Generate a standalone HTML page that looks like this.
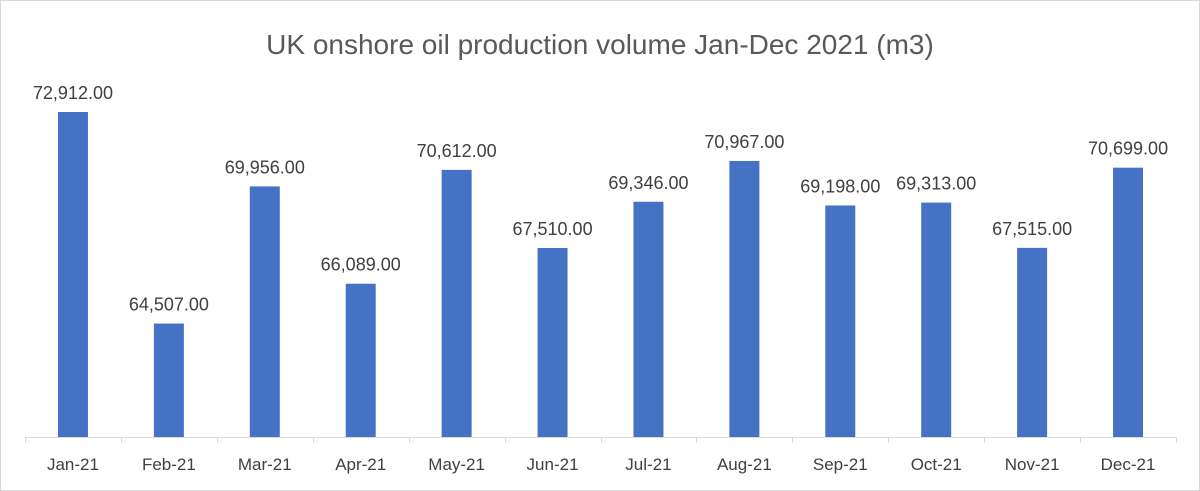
<!DOCTYPE html>
<html><head><style>
body{margin:0;background:#fff;}
svg{display:block;font-family:"Liberation Sans",sans-serif;}
</style></head><body>
<svg width="1200" height="491" viewBox="0 0 1200 491">
<rect x="0.5" y="0.5" width="1199" height="490" fill="#fff" stroke="#d9d9d9"/>
<text x="600" y="54" text-anchor="middle" font-size="28" fill="#595959">UK onshore oil production volume Jan-Dec 2021 (m3)</text>
<g id="bars"></g>
<line x1="25" y1="437.5" x2="1176" y2="437.5" stroke="#d9d9d9"/>
<g id="ticks" stroke="#d9d9d9"></g>
<g id="lbl" font-size="18" fill="#404040" text-anchor="middle"></g>
</svg>
<script>
const d=[["Jan-21",72912],["Feb-21",64507],["Mar-21",69956],["Apr-21",66089],["May-21",70612],["Jun-21",67510],["Jul-21",69346],["Aug-21",70967],["Sep-21",69198],["Oct-21",69313],["Nov-21",67515],["Dec-21",70699]];
const ns="http://www.w3.org/2000/svg";
const B=document.getElementById("bars"),T=document.getElementById("ticks"),L=document.getElementById("lbl");
const w=(1176-25)/12;
function el(p,t,a,txt){const e=document.createElementNS(ns,t);for(const k in a)e.setAttribute(k,a[k]);if(txt)e.textContent=txt;p.appendChild(e);}
for(let i=0;i<=12;i++){const x=Math.round(25+i*w)+0.5;el(T,"line",{x1:x,y1:437,x2:x,y2:443});}
d.forEach((r,i)=>{const c=25+w*(i+0.5);const h=(r[1]-60000)*325/12912;const top=437-h;
el(B,"rect",{x:c-15,y:top,width:30,height:h,fill:"#4472c4"});
el(L,"text",{x:c,y:top-13},r[1].toLocaleString("en-US")+".00");
el(L,"text",{x:c,y:470,"font-size":"17"},r[0]);});
</script>
</body></html>
